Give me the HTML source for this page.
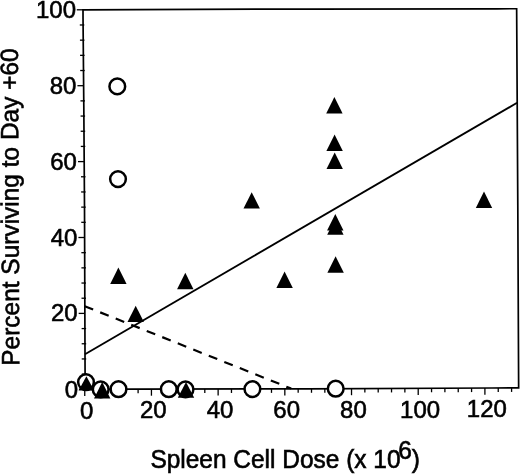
<!DOCTYPE html><html><head><meta charset="utf-8"><style>html,body{margin:0;padding:0;background:#fff}svg{display:block}text{font-family:"Liberation Sans",sans-serif;fill:#000;stroke:#000;stroke-width:0.6px}</style></head><body>
<svg width="520" height="474" viewBox="0 0 520 474">
<rect width="520" height="474" fill="#fff"/>
<g stroke="#000" stroke-width="1.7" fill="none">
<polygon points="83.0,9.8 137,9.6 307,9.05 497,8.8 516.65,8.75 517.8,205 518.56,370 518.65,387.9 492,388.0 307,388.8 133,389.15 85.15,389.3 85.04,365 84.5,205 83.8,105 83.04,19" stroke-linejoin="miter"/>
<line x1="78.95" y1="389.30" x2="85.15" y2="389.30" stroke-width="1.3"/>
<line x1="81.78" y1="374.12" x2="86.28" y2="374.12" stroke-width="1.3"/>
<line x1="81.72" y1="358.94" x2="86.22" y2="358.94" stroke-width="1.3"/>
<line x1="81.67" y1="343.76" x2="86.17" y2="343.76" stroke-width="1.3"/>
<line x1="81.62" y1="328.58" x2="86.12" y2="328.58" stroke-width="1.3"/>
<line x1="78.67" y1="313.40" x2="84.87" y2="313.40" stroke-width="1.3"/>
<line x1="81.51" y1="298.22" x2="86.01" y2="298.22" stroke-width="1.3"/>
<line x1="81.46" y1="283.04" x2="85.96" y2="283.04" stroke-width="1.3"/>
<line x1="81.41" y1="267.86" x2="85.91" y2="267.86" stroke-width="1.3"/>
<line x1="81.36" y1="252.68" x2="85.86" y2="252.68" stroke-width="1.3"/>
<line x1="78.41" y1="237.50" x2="84.61" y2="237.50" stroke-width="1.3"/>
<line x1="81.26" y1="222.32" x2="85.76" y2="222.32" stroke-width="1.3"/>
<line x1="81.21" y1="207.14" x2="85.71" y2="207.14" stroke-width="1.3"/>
<line x1="81.11" y1="191.96" x2="85.61" y2="191.96" stroke-width="1.3"/>
<line x1="81.00" y1="176.78" x2="85.50" y2="176.78" stroke-width="1.3"/>
<line x1="78.00" y1="161.60" x2="84.20" y2="161.60" stroke-width="1.3"/>
<line x1="80.79" y1="146.42" x2="85.29" y2="146.42" stroke-width="1.3"/>
<line x1="80.68" y1="131.24" x2="85.18" y2="131.24" stroke-width="1.3"/>
<line x1="80.58" y1="116.06" x2="85.08" y2="116.06" stroke-width="1.3"/>
<line x1="80.46" y1="100.88" x2="84.96" y2="100.88" stroke-width="1.3"/>
<line x1="77.43" y1="85.70" x2="83.63" y2="85.70" stroke-width="1.3"/>
<line x1="80.20" y1="70.52" x2="84.70" y2="70.52" stroke-width="1.3"/>
<line x1="80.06" y1="55.34" x2="84.56" y2="55.34" stroke-width="1.3"/>
<line x1="79.93" y1="40.16" x2="84.43" y2="40.16" stroke-width="1.3"/>
<line x1="79.79" y1="24.98" x2="84.29" y2="24.98" stroke-width="1.3"/>
<line x1="76.80" y1="9.80" x2="83.00" y2="9.80" stroke-width="1.3"/>
<line x1="84.75" y1="389.30" x2="84.75" y2="395.90" stroke-width="1.3"/>
<line x1="98.09" y1="389.26" x2="98.09" y2="393.26" stroke-width="1.3"/>
<line x1="111.43" y1="389.22" x2="111.43" y2="393.22" stroke-width="1.3"/>
<line x1="124.77" y1="389.18" x2="124.77" y2="393.18" stroke-width="1.3"/>
<line x1="138.10" y1="389.14" x2="138.10" y2="393.14" stroke-width="1.3"/>
<line x1="151.44" y1="389.11" x2="151.44" y2="395.71" stroke-width="1.3"/>
<line x1="164.78" y1="389.09" x2="164.78" y2="393.09" stroke-width="1.3"/>
<line x1="178.12" y1="389.06" x2="178.12" y2="393.06" stroke-width="1.3"/>
<line x1="191.46" y1="389.03" x2="191.46" y2="393.03" stroke-width="1.3"/>
<line x1="204.80" y1="389.01" x2="204.80" y2="393.01" stroke-width="1.3"/>
<line x1="218.13" y1="388.98" x2="218.13" y2="395.58" stroke-width="1.3"/>
<line x1="231.47" y1="388.95" x2="231.47" y2="392.95" stroke-width="1.3"/>
<line x1="244.81" y1="388.93" x2="244.81" y2="392.93" stroke-width="1.3"/>
<line x1="258.15" y1="388.90" x2="258.15" y2="392.90" stroke-width="1.3"/>
<line x1="271.49" y1="388.87" x2="271.49" y2="392.87" stroke-width="1.3"/>
<line x1="284.83" y1="388.84" x2="284.83" y2="395.44" stroke-width="1.3"/>
<line x1="298.17" y1="388.82" x2="298.17" y2="392.82" stroke-width="1.3"/>
<line x1="311.50" y1="388.78" x2="311.50" y2="392.78" stroke-width="1.3"/>
<line x1="324.84" y1="388.72" x2="324.84" y2="392.72" stroke-width="1.3"/>
<line x1="338.18" y1="388.67" x2="338.18" y2="392.67" stroke-width="1.3"/>
<line x1="351.52" y1="388.61" x2="351.52" y2="395.21" stroke-width="1.3"/>
<line x1="364.86" y1="388.55" x2="364.86" y2="392.55" stroke-width="1.3"/>
<line x1="378.20" y1="388.49" x2="378.20" y2="392.49" stroke-width="1.3"/>
<line x1="391.53" y1="388.43" x2="391.53" y2="392.43" stroke-width="1.3"/>
<line x1="404.87" y1="388.38" x2="404.87" y2="392.38" stroke-width="1.3"/>
<line x1="418.21" y1="388.32" x2="418.21" y2="394.92" stroke-width="1.3"/>
<line x1="431.55" y1="388.26" x2="431.55" y2="392.26" stroke-width="1.3"/>
<line x1="444.89" y1="388.20" x2="444.89" y2="392.20" stroke-width="1.3"/>
<line x1="458.23" y1="388.15" x2="458.23" y2="392.15" stroke-width="1.3"/>
<line x1="471.57" y1="388.09" x2="471.57" y2="392.09" stroke-width="1.3"/>
<line x1="484.90" y1="388.03" x2="484.90" y2="394.63" stroke-width="1.3"/>
<line x1="498.24" y1="387.98" x2="498.24" y2="391.98" stroke-width="1.3"/>
<line x1="511.58" y1="387.93" x2="511.58" y2="391.93" stroke-width="1.3"/>
</g>
<line x1="85.0" y1="354.2" x2="517.1" y2="102.8" stroke="#000" stroke-width="1.85"/>
<line x1="84.7" y1="306.2" x2="291.2" y2="388.6" stroke="#000" stroke-width="2.2" stroke-dasharray="9.1 7.6"/>
<text transform="translate(78.2,397.9) scale(0.975,1)" font-size="24.6" text-anchor="end">0</text>
<text transform="translate(77.7,321.4) scale(0.975,1)" font-size="24.6" text-anchor="end">20</text>
<text transform="translate(77.3,245.5) scale(0.975,1)" font-size="24.6" text-anchor="end">40</text>
<text transform="translate(76.9,169.6) scale(0.975,1)" font-size="24.6" text-anchor="end">60</text>
<text transform="translate(76.4,93.7) scale(0.975,1)" font-size="24.6" text-anchor="end">80</text>
<text transform="translate(76.0,17.8) scale(0.975,1)" font-size="24.6" text-anchor="end">100</text>
<text transform="translate(86.7,418.6) scale(0.975,1)" font-size="24.6" text-anchor="middle">0</text>
<text transform="translate(153.3,418.4) scale(0.975,1)" font-size="24.6" text-anchor="middle">20</text>
<text transform="translate(220.0,418.2) scale(0.975,1)" font-size="24.6" text-anchor="middle">40</text>
<text transform="translate(286.7,418.0) scale(0.975,1)" font-size="24.6" text-anchor="middle">60</text>
<text transform="translate(353.4,417.7) scale(0.975,1)" font-size="24.6" text-anchor="middle">80</text>
<text transform="translate(420.1,417.5) scale(0.975,1)" font-size="24.6" text-anchor="middle">100</text>
<text transform="translate(486.8,417.3) scale(0.975,1)" font-size="24.6" text-anchor="middle">120</text>
<text transform="translate(150.4,468.4) scale(0.979,1)" font-size="25">Spleen Cell Dose (x 10<tspan dy="-9.5" dx="-2.4">6</tspan><tspan dy="9.5">)</tspan></text>
<text transform="translate(19.3,365.7) rotate(-90.25) scale(0.979,1)" font-size="25">Percent Surviving to Day +60</text>
<circle cx="117.3" cy="86.4" r="7.85" fill="#fff" stroke="#000" stroke-width="2.5"/>
<circle cx="118.0" cy="179.1" r="7.85" fill="#fff" stroke="#000" stroke-width="2.5"/>
<circle cx="86.0" cy="382.1" r="7.85" fill="#fff" stroke="#000" stroke-width="2.5"/>
<circle cx="100.7" cy="389.4" r="7.85" fill="#fff" stroke="#000" stroke-width="2.5"/>
<circle cx="118.5" cy="389.2" r="7.85" fill="#fff" stroke="#000" stroke-width="2.5"/>
<circle cx="168.8" cy="389.2" r="7.85" fill="#fff" stroke="#000" stroke-width="2.5"/>
<circle cx="185.5" cy="389.4" r="7.85" fill="#fff" stroke="#000" stroke-width="2.5"/>
<circle cx="252.4" cy="389.1" r="7.85" fill="#fff" stroke="#000" stroke-width="2.5"/>
<circle cx="335.7" cy="388.7" r="7.85" fill="#fff" stroke="#000" stroke-width="2.5"/>
<polygon points="334.4,97.0 326.2,113.4 342.6,113.4" fill="#000"/>
<polygon points="334.6,134.6 326.4,151.0 342.8,151.0" fill="#000"/>
<polygon points="334.7,152.6 326.5,169.0 342.9,169.0" fill="#000"/>
<polygon points="251.7,192.2 243.5,208.6 259.9,208.6" fill="#000"/>
<polygon points="484.0,191.5 475.8,207.9 492.2,207.9" fill="#000"/>
<polygon points="335.3,214.1 327.1,230.5 343.5,230.5" fill="#000"/>
<polygon points="335.4,218.4 327.2,234.8 343.6,234.8" fill="#000"/>
<polygon points="335.6,256.3 327.4,272.7 343.8,272.7" fill="#000"/>
<polygon points="118.4,267.6 110.2,284.0 126.6,284.0" fill="#000"/>
<polygon points="185.3,272.8 177.1,289.2 193.5,289.2" fill="#000"/>
<polygon points="284.6,271.6 276.4,288.0 292.8,288.0" fill="#000"/>
<polygon points="135.7,305.7 127.5,322.1 143.9,322.1" fill="#000"/>
<polygon points="86.4,376.2 78.6,390.5 94.2,390.5" fill="#000"/>
<polygon points="102.2,382.1 94.0,398.5 110.4,398.5" fill="#000"/>
<polygon points="186.0,382.0 177.8,397.8 194.2,397.8" fill="#000"/>
</svg></body></html>
